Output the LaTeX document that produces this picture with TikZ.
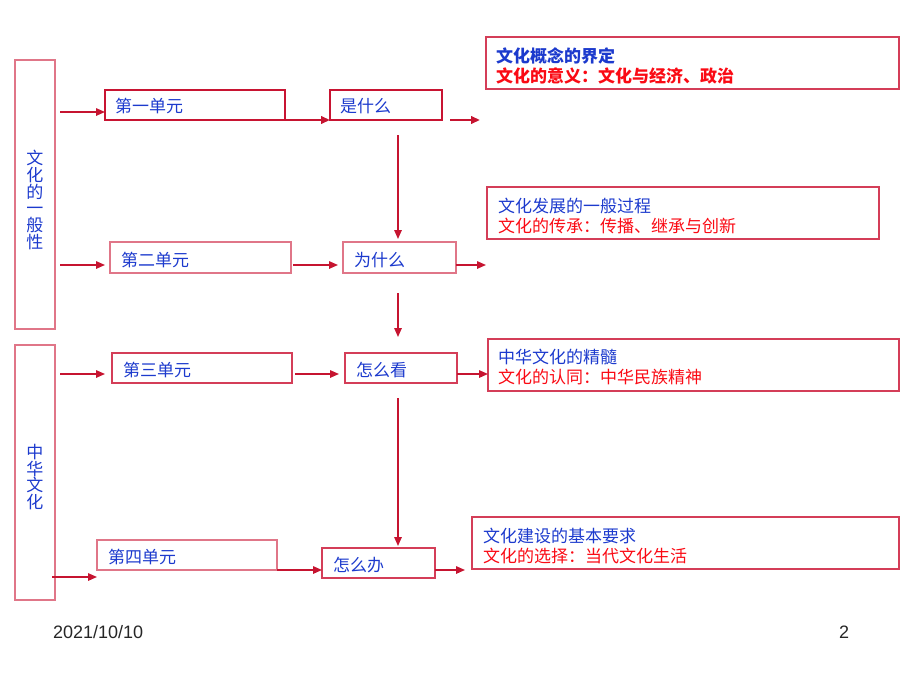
\documentclass[tikz,border=0pt]{standalone}
\usepackage{fontspec}
\setmainfont{Noto Sans CJK SC}
\newfontfamily\latinsans{Liberation Sans}
\usetikzlibrary{arrows.meta,calc}
\definecolor{boxred}{RGB}{200,20,50}
\definecolor{boxmid}{RGB}{212,62,88}
\definecolor{boxpink}{RGB}{224,118,136}
\definecolor{txtblue}{RGB}{28,58,205}
\definecolor{txtred}{RGB}{250,10,20}
\definecolor{arrred}{RGB}{198,20,48}
\begin{document}
\begin{tikzpicture}[x=1pt,y=-1pt,
  every node/.style={inner sep=0pt, outer sep=0pt, font=\fontsize{17}{20}\selectfont},
  frame/.style={draw=boxmid, line width=1.4pt, rectangle},
  framethick/.style={draw=boxred, line width=2pt, rectangle},
  framepink/.style={draw=boxpink, line width=1.5pt, rectangle},
  bluetext/.style={text=txtblue, anchor=west},
  twoline/.style={anchor=west, align=left},
  vtext/.style={text=txtblue, align=center, font=\fontsize{17}{16.7}\selectfont},
  arr/.style={draw=arrred, line width=1.5pt, -{Triangle[length=9pt,width=7.5pt]}},
  arrthick/.style={draw=arrred, line width=2.2pt, -{Triangle[length=9pt,width=7.5pt]}},
  foot/.style={font=\latinsans\fontsize{18}{20}\selectfont, text=black!85}
]
\useasboundingbox (0,0) rectangle (900,675);

% left tall boxes
\node[framepink, minimum width=40pt, minimum height=269pt] (L1) at (35,194.5) {};
\node[framepink, minimum width=40pt, minimum height=255pt] (L2) at (35,472.5) {};
\node[vtext] (L1t) at (35,200) {文\\化\\的\\一\\般\\性};
\node[vtext] (L2t) at (35,477) {中\\华\\文\\化};

% unit boxes
\node[framethick, minimum width=180pt, minimum height=30pt] (u1) at (195,105) {};
\node[framethick, minimum width=112pt, minimum height=30pt] (y1) at (386,105) {};
\node[framepink, minimum width=181pt, minimum height=31pt] (u2) at (200.5,257.5) {};
\node[framepink, minimum width=113pt, minimum height=31pt] (w2) at (399.5,257.5) {};
\node[frame, minimum width=180pt, minimum height=30pt] (u3) at (202,368) {};
\node[frame, minimum width=112pt, minimum height=30pt] (k3) at (401,368) {};
\node[framepink, minimum width=180pt, minimum height=30pt] (u4) at (187,555) {};
\node[frame, minimum width=113pt, minimum height=30pt] (b4) at (378.5,563) {};

\node[bluetext] (u1t) at ([xshift=10pt,yshift=-1.5pt]u1.west) {第一单元};
\node[bluetext] (y1t) at ([xshift=10pt,yshift=-1.5pt]y1.west) {是什么};
\node[bluetext] (u2t) at ([xshift=11pt,yshift=-2.5pt]u2.west) {第二单元};
\node[bluetext] (w2t) at ([xshift=11pt,yshift=-2.5pt]w2.west) {为什么};
\node[bluetext] (u3t) at ([xshift=11pt,yshift=-2pt]u3.west) {第三单元};
\node[bluetext] (k3t) at ([xshift=11pt,yshift=-2pt]k3.west) {怎么看};
\node[bluetext] (u4t) at ([xshift=11pt,yshift=-2pt]u4.west) {第四单元};
\node[bluetext] (b4t) at ([xshift=11pt,yshift=-2pt]b4.west) {怎么办};

% right boxes
\node[frame, minimum width=413pt, minimum height=52pt] (R1) at (692.5,63) {};
\node[frame, minimum width=392pt, minimum height=52pt] (R2) at (683,213) {};
\node[frame, minimum width=411pt, minimum height=52pt] (R3) at (693.5,365) {};
\node[frame, minimum width=427pt, minimum height=52pt] (R4) at (685.5,543) {};

\node[twoline, font=\bfseries\fontsize{17}{20}\selectfont] (R1t) at ([xshift=10pt,yshift=-3pt]R1.west)
  {\textcolor{txtblue}{文化概念的界定}\\\textcolor{txtred}{文化的意义：文化与经济、政治}};
\node[twoline] (R2t) at ([xshift=11pt,yshift=-2.5pt]R2.west)
  {\textcolor{txtblue}{文化发展的一般过程}\\\textcolor{txtred}{文化的传承：传播、继承与创新}};
\node[twoline] (R3t) at ([xshift=10pt,yshift=-2.5pt]R3.west)
  {\textcolor{txtblue}{中华文化的精髓}\\\textcolor{txtred}{文化的认同：中华民族精神}};
\node[twoline] (R4t) at ([xshift=11pt,yshift=-2.5pt]R4.west)
  {\textcolor{txtblue}{文化建设的基本要求}\\\textcolor{txtred}{文化的选择：当代文化生活}};

% row 1 connectors
\coordinate (a1s) at (60,112);
\draw[arr] (a1s) -- (a1s -| u1.west);
\draw[arrthick] (u1.south east) -- (y1.south west);
\coordinate (r1s) at (450,120);
\coordinate (r1e) at (480,120);
\draw[arrthick] (r1s) -- (r1e);
\coordinate (v1s) at (398,135);
\draw[arr, shorten >=3pt] (v1s) -- (v1s |- w2.north);

% row 2 connectors
\coordinate (a2s) at (60,265);
\draw[arr, shorten >=5pt] (a2s) -- (a2s -| u2.west);
\draw[arr, shorten <=2pt, shorten >=5pt] (a2s -| u2.east) -- (a2s -| w2.west);
\coordinate (r2e) at (486,265);
\draw[arr] (a2s -| w2.east) -- (r2e);
\coordinate (v2s) at (398,293);
\coordinate (v2e) at (398,337);
\draw[arr] (v2s) -- (v2e);

% row 3 connectors
\coordinate (a3s) at (60,374);
\draw[arr, shorten >=7pt] (a3s) -- (a3s -| u3.west);
\draw[arr, shorten <=3pt, shorten >=6pt] (a3s -| u3.east) -- (a3s -| k3.west);
\draw[arr] (a3s -| k3.east) -- (a3s -| R3.west);
\coordinate (v3s) at (398,398);
\draw[arr, shorten >=2pt] (v3s) -- (v3s |- b4.north);

% row 4 connectors
\coordinate (a4s) at (52,577);
\draw[arr] (a4s) -- (a4s -| u4.west);
\draw[arr] (u4.south east) -- (u4.south east -| b4.west);
\coordinate (r4e) at (465,570);
\draw[arr] (b4.east |- r4e) -- (r4e);

% footer
\node[foot, anchor=west] (date) at (53,632) {2021/10/10};
\node[foot, anchor=west] (page) at (839,632) {2};
\end{tikzpicture}
\end{document}
